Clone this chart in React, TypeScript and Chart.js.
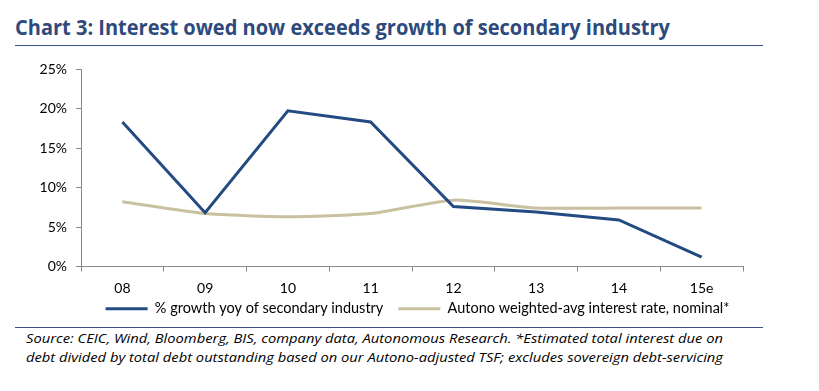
import React, { useEffect, useLayoutEffect, useRef } from "react";
import { Chart, registerables } from "chart.js";

Chart.register(...registerables);

const titleText = "Chart 3: Interest owed now exceeds growth of secondary industry";
const categories = ["08", "09", "10", "11", "12", "13", "14", "15e"];
const growthSecondary = [18.3, 6.8, 19.7, 18.3, 7.6, 6.9, 5.9, 1.2];
const interestRate = [8.2, 6.7, 6.3, 6.7, 8.4, 7.4, 7.4, 7.4];
const yTicks = [0, 5, 10, 15, 20, 25];
const seriesNames = [
  "% growth yoy of secondary industry",
  "Autono weighted-avg interest rate, nominal*",
];
const sourceLines = [
  "Source: CEIC, Wind, Bloomberg, BIS, company data, Autonomous Research.  *Estimated total interest due on",
  "debt divided by total debt outstanding based on our Autono-adjusted TSF; excludes sovereign debt-servicing",
];

const BLUE = "#234B82";
const TAN = "#C9C09F";
const RULE = "#3A5288";
const AXIS = "#888888";
const TICK_FONT = { family: "Lato, 'Open Sans', sans-serif", size: 14 };
const LEGEND_FONT = { family: "Lato, 'Open Sans', sans-serif", size: 14.5 };

const noLabelClip = {
  id: "noLabelClip",
  beforeDraw(chart: any) {
    const x = chart.scales.x;
    if (x) x._computeLabelArea = () => undefined;
  },
};

function FitText(props: { text: string; width: number; style: React.CSSProperties }) {
  const ref = useRef<HTMLSpanElement>(null);
  useLayoutEffect(() => {
    const el = ref.current;
    if (!el) return;
    const fit = () => {
      el.style.transform = "none";
      const w = el.getBoundingClientRect().width;
      if (w > 0) el.style.transform = `scaleX(${props.width / w})`;
    };
    fit();
    if ((document as any).fonts) (document as any).fonts.ready.then(fit);
  }, [props.text, props.width]);
  return (
    <span
      ref={ref}
      style={{ display: "inline-block", whiteSpace: "nowrap", transformOrigin: "0 0", ...props.style }}
    >
      {props.text}
    </span>
  );
}

export default function App() {
  const canvasRef = useRef<HTMLCanvasElement>(null);

  useEffect(() => {
    const canvas = canvasRef.current;
    if (!canvas) return;
    const chart = new Chart(canvas, {
      type: "line",
      data: {
        labels: categories,
        datasets: [
          {
            label: seriesNames[0],
            data: growthSecondary,
            borderColor: BLUE,
            backgroundColor: BLUE,
            borderWidth: 3,
            pointRadius: 0,
            tension: 0,
          },
          {
            label: seriesNames[1],
            data: interestRate,
            borderColor: TAN,
            backgroundColor: TAN,
            borderWidth: 3,
            pointRadius: 0,
            tension: 0.2,
          },
        ],
      },
      plugins: [noLabelClip],
      options: {
        responsive: false,
        animation: false,
        layout: { padding: { left: 16, right: 0, top: 19, bottom: 0 } },
        plugins: {
          title: { display: false },
          tooltip: { enabled: false },
          legend: {
            display: true,
            position: "bottom",
            align: "center",
            labels: {
              boxWidth: 42,
              boxHeight: 3,
              padding: 15,
              color: "#000000",
              font: LEGEND_FONT,
              generateLabels: (c: any) =>
                c.data.datasets.map((ds: any, i: number) => ({
                  text: ds.label,
                  fillStyle: ds.borderColor,
                  strokeStyle: ds.borderColor,
                  lineWidth: 0,
                  hidden: false,
                  datasetIndex: i,
                  fontColor: "#000000",
                })),
            },
          },
        },
        scales: {
          x: {
            type: "category",
            offset: true,
            grid: {
              display: true,
              offset: true,
              drawOnChartArea: false,
              drawTicks: true,
              tickLength: 5,
              color: AXIS,
            },
            border: { display: true, color: AXIS, width: 1 },
            ticks: { color: "#000000", font: TICK_FONT, padding: 9, maxRotation: 0 },
            afterFit: (s: any) => {
              s.height = 20;
            },
          },
          y: {
            type: "linear",
            position: "left",
            min: 0,
            max: 25,
            grid: {
              display: true,
              drawOnChartArea: false,
              drawTicks: true,
              tickLength: 5,
              color: AXIS,
            },
            border: { display: true, color: AXIS, width: 1 },
            ticks: {
              color: "#000000",
              font: TICK_FONT,
              padding: 9,
              callback: (v: any) => `${v}%`,
            },
            afterBuildTicks: (s: any) => {
              s.ticks = yTicks.map((v) => ({ value: v }));
            },
            afterFit: (s: any) => {
              s.width = 65;
            },
          },
          yRight: {
            type: "linear",
            position: "right",
            display: true,
            grid: { display: false },
            border: { display: false },
            ticks: { display: false },
            afterFit: (s: any) => {
              s.width = 76;
            },
          },
        },
      },
    } as any);
    return () => chart.destroy();
  }, []);

  return (
    <div style={{ position: "absolute", left: 0, top: 0, width: 819, height: 391, background: "#ffffff", overflow: "hidden" }}>
      <div style={{ position: "absolute", left: 15, top: 14, lineHeight: "26px" }}>
        <FitText
          text={titleText}
          width={655}
          style={{ fontFamily: "'Open Sans', sans-serif", fontWeight: 700, fontSize: 21, color: "#2E4A7C" }}
        />
      </div>
      <div style={{ position: "absolute", left: 15, top: 45, width: 748, height: 1, background: RULE }} />
      <canvas
        ref={canvasRef}
        width={819}
        height={276}
        style={{ position: "absolute", left: 0, top: 50, width: 819, height: 276, display: "block" }}
      />
      <div style={{ position: "absolute", left: 15, top: 327, width: 748, height: 1, background: RULE }} />
      {sourceLines.map((line, i) => (
        <div key={i} style={{ position: "absolute", left: 26, top: 328 + i * 19, lineHeight: "19px" }}>
          <FitText
            text={line}
            width={697}
            style={{ fontFamily: "'Open Sans', sans-serif", fontStyle: "italic", fontSize: 13.5, color: "#000000" }}
          />
        </div>
      ))}
    </div>
  );
}
